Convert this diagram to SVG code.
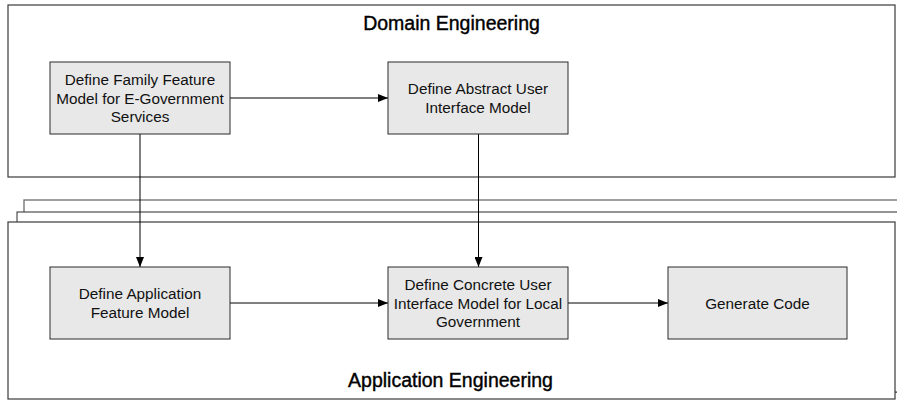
<svg xmlns="http://www.w3.org/2000/svg" width="897" height="401" viewBox="0 0 897 401">
<defs>
<style>
.frame{fill:#fff;stroke:#3a3a3a;stroke-width:1.2}
.back{fill:#fff;stroke:#2a2a2a;stroke-width:1}
.back2{fill:#fff;stroke:#777;stroke-width:1.4}
.node{fill:#e8e8e8;stroke:#2a2a2a;stroke-width:1}
.t{font-family:"Liberation Sans",Arial,sans-serif;font-size:15.3px;fill:#111;text-anchor:middle}
.title{font-family:"Liberation Sans",Arial,sans-serif;font-size:19.5px;fill:#000;stroke:#000;stroke-width:0.4;text-anchor:middle}
.c{fill:none;stroke:#000;stroke-width:1}
</style>
<marker id="ah" markerWidth="10" markerHeight="8" refX="10" refY="4" orient="auto" markerUnits="userSpaceOnUse">
<path d="M0,0 L10,4 L0,8 Z" fill="#000"/>
</marker>
</defs>
<rect width="897" height="401" fill="#fff"/>
<g id="frames">
<rect class="back2" x="24" y="200" width="900" height="192"/>
<rect class="back" x="17" y="212" width="900" height="180"/>
<rect id="application-engineering" class="frame" x="8" y="222" width="887" height="177"/>
<rect id="domain-engineering" class="frame" x="8" y="5" width="887" height="172"/>
<text class="title" x="451.5" y="30">Domain Engineering</text>
<text class="title" x="450.5" y="387">Application Engineering</text>
</g>
<g id="connectors">
<line class="c" x1="230" y1="98" x2="388" y2="98" marker-end="url(#ah)"/>
<line class="c" x1="140" y1="134" x2="140" y2="267" marker-end="url(#ah)"/>
<line class="c" x1="478.5" y1="134" x2="478.5" y2="267" marker-end="url(#ah)"/>
<line class="c" x1="230" y1="303" x2="388" y2="303" marker-end="url(#ah)"/>
<line class="c" x1="568" y1="303" x2="668" y2="303" marker-end="url(#ah)"/>
</g>
<g id="n1">
<rect class="node" x="50" y="62" width="180" height="72"/>
<text class="t" x="140" y="85">Define Family Feature</text>
<text class="t" x="140" y="103.5">Model for E-Government</text>
<text class="t" x="140" y="122">Services</text>
</g>
<g id="n2">
<rect class="node" x="388" y="62" width="180" height="72"/>
<text class="t" x="478" y="94">Define Abstract User</text>
<text class="t" x="478" y="112.5">Interface Model</text>
</g>
<g id="n3">
<rect class="node" x="50" y="267" width="180" height="72"/>
<text class="t" x="140" y="299">Define Application</text>
<text class="t" x="140" y="317.5">Feature Model</text>
</g>
<g id="n4">
<rect class="node" x="388" y="267" width="180" height="72"/>
<text class="t" x="478" y="290">Define Concrete User</text>
<text class="t" x="478" y="308.5">Interface Model for Local</text>
<text class="t" x="478" y="327">Government</text>
</g>
<g id="n5">
<rect class="node" x="668" y="267" width="179" height="72"/>
<text class="t" x="757.5" y="308.5">Generate Code</text>
</g>
</svg>
